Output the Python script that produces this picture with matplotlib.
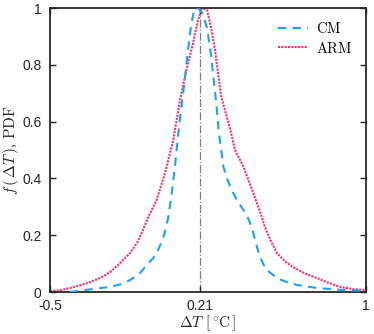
import matplotlib
matplotlib.use("Agg")
import matplotlib.pyplot as plt

plt.rcParams['mathtext.fontset'] = 'cm'
plt.rcParams['font.family'] = ['Liberation Sans', 'DejaVu Sans']

cm_x = [-0.405, -0.343, -0.280, -0.215, -0.160, -0.120, -0.075, -0.040, -0.010, 0.013, 0.035,
        0.050, 0.062, 0.078, 0.093, 0.109, 0.125, 0.140, 0.155, 0.170, 0.182, 0.195, 0.210,
        0.225, 0.245, 0.262, 0.278, 0.290, 0.300, 0.323, 0.340, 0.362, 0.390, 0.418, 0.440,
        0.459, 0.478, 0.497, 0.515, 0.530, 0.577, 0.620, 0.672, 0.767, 0.891, 1.0]
cm_y = [0.0, 0.006, 0.012, 0.018, 0.028, 0.042, 0.065, 0.095, 0.120, 0.148, 0.185,
        0.225, 0.265, 0.349, 0.441, 0.560, 0.660, 0.750, 0.852, 0.940, 0.985, 1.0, 0.995,
        0.980, 0.930, 0.850, 0.740, 0.660, 0.570, 0.441, 0.400, 0.359, 0.320, 0.289, 0.260,
        0.225, 0.170, 0.123, 0.095, 0.077, 0.049, 0.036, 0.025, 0.014, 0.007, 0.004]

arm_x = [-0.5, -0.45, -0.405, -0.360, -0.310, -0.260, -0.215, -0.170, -0.120, -0.085, -0.059,
         -0.033, 0.006, 0.046, 0.085, 0.117, 0.150, 0.179, 0.200, 0.221, 0.245, 0.265, 0.283,
         0.312, 0.358, 0.378, 0.418, 0.465, 0.505, 0.520, 0.545, 0.577, 0.615, 0.653, 0.710,
         0.767, 0.820, 0.876, 0.940, 1.0]
arm_y = [0.003, 0.007, 0.014, 0.023, 0.035, 0.050, 0.070, 0.100, 0.137, 0.175, 0.218,
         0.265, 0.324, 0.419, 0.535, 0.676, 0.790, 0.877, 0.950, 1.0, 0.993, 0.930, 0.852,
         0.690, 0.565, 0.500, 0.441, 0.349, 0.265, 0.229, 0.185, 0.137, 0.108, 0.088, 0.065,
         0.049, 0.033, 0.018, 0.010, 0.007]

mean_val = 0.21
x_ticks = [-0.5, 0.21, 1]
x_ticklabels = ['-0.5', '0.21', '1']
y_ticks = [0, 0.2, 0.4, 0.6, 0.8, 1]
y_ticklabels = ['0', '0.2', '0.4', '0.6', '0.8', '1']

fig = plt.figure(figsize=(3.74, 3.34), dpi=100)
ax = fig.add_axes([50/374, 42/334, 316/374, 284/334])

ax.plot([mean_val, mean_val], [0, 1], color='#808080', linestyle='-.', linewidth=0.9, zorder=1)
ax.plot(cm_x, cm_y, color='#1AA3F5', linestyle=(0, (4, 3)), linewidth=1.5, label=r'$\mathrm{CM}$', zorder=3)
ax.plot(arm_x, arm_y, color='#FF2A72', linestyle=(0, (1, 0.6)), linewidth=1.5, label=r'$\mathrm{ARM}$', zorder=2)

ax.set_xlim(-0.5, 1)
ax.set_ylim(0, 1)
ax.set_xticks(x_ticks)
ax.set_xticklabels(x_ticklabels)
ax.set_yticks(y_ticks)
ax.set_yticklabels(y_ticklabels)
ax.tick_params(direction='in', top=True, right=True, labelsize=10, length=4, width=1, colors='#262626')
ax.tick_params(axis='y', pad=6)
ax.tick_params(axis='x', pad=5)
for sp in ax.spines.values():
    sp.set_linewidth(1.3)
    sp.set_color('#262626')

ax.set_xlabel(r'$\Delta T\ [\,^{\circ}\mathrm{C}\,]$', fontsize=11, labelpad=0, color='#262626')
ax.set_ylabel(r'$f\,(\,\Delta T\,)$, $\mathrm{PDF}$', fontsize=11, labelpad=1, color='#262626')

leg = ax.legend(loc='upper right', frameon=False, fontsize=10.5, handlelength=2.0,
                handletextpad=0.6, borderaxespad=0.5, labelspacing=0.3)

fig.savefig('out.png', dpi=100)
